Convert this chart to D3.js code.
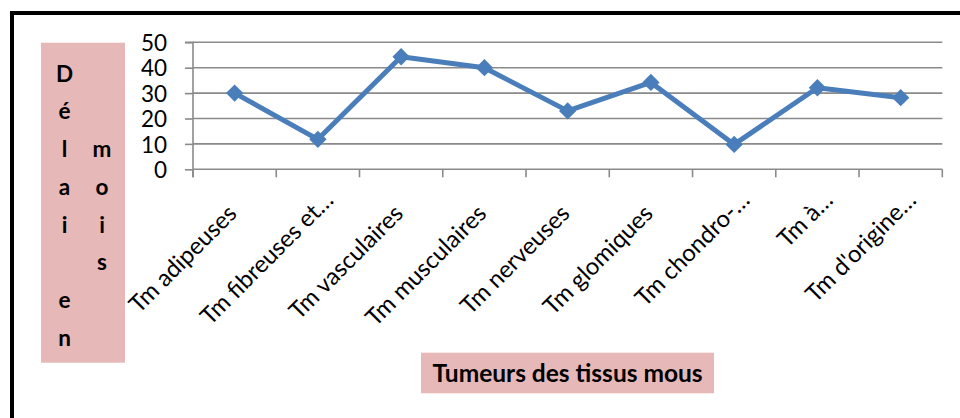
<!DOCTYPE html>
<html>
<head>
<meta charset="utf-8">
<script src="https://cdn.jsdelivr.net/npm/d3@7/dist/d3.min.js"></script>
<style>
  html, body { margin: 0; padding: 0; background: #fff; }
  svg { display: block; }
</style>
</head>
<body>
<svg id="chart" width="960" height="418"></svg>
<script>
// ---- data ----
const categories = [
  "Tm adipeuses", "Tm fibreuses et…", "Tm vasculaires", "Tm musculaires",
  "Tm nerveuses", "Tm glomiques", "Tm chondro-…", "Tm à…", "Tm d'origine…"
];
const values = [30, 11.8, 44.3, 40, 23, 34.2, 9.8, 32.1, 28.2];
const yTicks = [0, 10, 20, 30, 40, 50];
const xTitle = "Tumeurs des tissus mous";
// stacked vertical y title: each column listed top to bottom (" " = empty row)
const yTitleColumns = [
  ["D", "é", "l", "a", "i", " ", "e", "n"],
  [" ", " ", "m", "o", "i", "s", " ", " "]
];

// ---- layout ----
const svg = d3.select("#chart");
const plot = { left: 193, right: 942.3, top: 42.3, bottom: 169.3 };
const pink = "#e6b8b7";
const gridColor = "#8a8a8a";
const lineColor = "#4a7ebb";
const font = "Lato, 'Open Sans', sans-serif";

// outer frame (only left and top edges visible)
svg.append("rect")
  .attr("x", 12).attr("y", 13)
  .attr("width", 1000).attr("height", 500)
  .attr("fill", "none").attr("stroke", "#000").attr("stroke-width", 4);

const x = d3.scaleBand().domain(categories).range([plot.left, plot.right]).padding(0);
const y = d3.scaleLinear().domain([0, 50]).range([plot.bottom, plot.top]);

// gridlines
svg.append("g").selectAll("line").data(yTicks.filter(d => d > 0)).join("line")
  .attr("x1", plot.left).attr("x2", plot.right)
  .attr("y1", d => y(d)).attr("y2", d => y(d))
  .attr("stroke", gridColor).attr("stroke-width", 1.6);

// y axis
const yAxis = d3.axisLeft(y).tickValues(yTicks).tickSize(8).tickPadding(18);
const gy = svg.append("g").attr("transform", `translate(${plot.left},0)`).call(yAxis);
gy.select(".domain").attr("stroke", gridColor).attr("stroke-width", 1.6)
  .attr("d", `M-8,${plot.top}H0V${plot.bottom + 8}`);
gy.selectAll(".tick line").attr("stroke", gridColor).attr("stroke-width", 1.6);
gy.selectAll(".tick text")
  .attr("font-family", font).attr("font-size", 22.5).attr("fill", "#000")
  .attr("dy", "0.36em");

// x axis line + boundary ticks
const boundaries = categories.map(c => x(c)).concat([plot.right]);
svg.append("line")
  .attr("x1", plot.left).attr("x2", plot.right)
  .attr("y1", plot.bottom).attr("y2", plot.bottom)
  .attr("stroke", gridColor).attr("stroke-width", 1.6);
svg.append("g").selectAll("line").data(boundaries).join("line")
  .attr("x1", d => d).attr("x2", d => d)
  .attr("y1", plot.bottom).attr("y2", plot.bottom + 8)
  .attr("stroke", gridColor).attr("stroke-width", 1.6);

// x category labels, rotated -45
const cx = c => x(c) + x.bandwidth() / 2;
svg.append("g").selectAll("text").data(categories).join("text")
  .attr("transform", d => `translate(${cx(d) + 3.5},${215}) rotate(-45)`)
  .attr("text-anchor", "end")
  .attr("dx", d => d.endsWith("…") ? 19 : 0)
  .attr("font-family", font).attr("font-size", 23.8).attr("fill", "#000")
  .text(d => d);

// line
const line = d3.line().x((d, i) => cx(categories[i])).y(d => y(d));
svg.append("path").datum(values)
  .attr("d", line).attr("fill", "none")
  .attr("stroke", lineColor).attr("stroke-width", 5).attr("stroke-linejoin", "round");

// diamond markers
const sym = d3.symbol().type(d3.symbolSquare).size(150);
svg.append("g").selectAll("path").data(values).join("path")
  .attr("d", sym)
  .attr("transform", (d, i) => `translate(${cx(categories[i])},${y(d)}) rotate(45)`)
  .attr("fill", lineColor);

// y title box
svg.append("rect").attr("x", 41).attr("y", 42.7).attr("width", 84).attr("height", 320)
  .attr("fill", pink);
const colX = [64.5, 102];
const rowBase0 = 81.7, rowStep = 37.7;
yTitleColumns.forEach((col, ci) => {
  svg.append("g").selectAll("text").data(col).join("text")
    .attr("x", colX[ci]).attr("y", (d, i) => rowBase0 + i * rowStep)
    .attr("text-anchor", "middle")
    .attr("font-family", font).attr("font-weight", "bold").attr("font-size", 22.5)
    .attr("fill", "#000")
    .text(d => d.trim());
});

// x title box
svg.append("rect").attr("x", 421).attr("y", 352.7).attr("width", 293).attr("height", 40.6)
  .attr("fill", pink);
svg.append("text")
  .attr("x", 567.5).attr("y", 373.5).attr("dy", "0.36em")
  .attr("text-anchor", "middle")
  .attr("font-family", font).attr("font-weight", "bold").attr("font-size", 24.5)
  .attr("fill", "#000")
  .text(xTitle);
</script>
</body>
</html>
